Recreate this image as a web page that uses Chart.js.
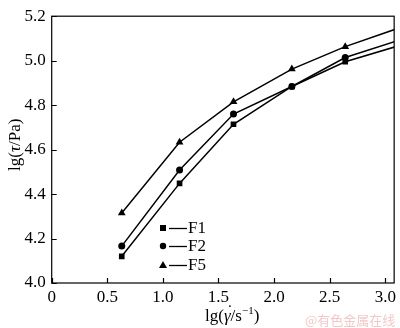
<!DOCTYPE html>
<html>
<head>
<meta charset="utf-8">
<script src="https://cdn.jsdelivr.net/npm/chart.js@4"></script>
<style>
  html, body { margin: 0; padding: 0; background: #fff; }
  #wrap { width: 400px; height: 328px; }
</style>
</head>
<body>
<div id="wrap"><canvas id="chart" width="400" height="328"></canvas></div>
<script>
// lg(shear rate), lg(shear stress)
const xF = [0.63, 1.15, 1.635, 2.16, 2.64, 3.14];
const f1 = [4.12, 4.448, 4.714, 4.884, 4.995, 5.07];
const f2 = [4.166, 4.508, 4.760, 4.884, 5.014, 5.095];
const f5 = [4.315, 4.633, 4.815, 4.962, 5.063, 5.15];
const seriesNames = ['F1', 'F2', 'F5'];
const markers = ['rect', 'circle', 'triangle'];
const xTicks = [0, 0.5, 1.0, 1.5, 2.0, 2.5, 3.0];
const yTicks = [4.0, 4.2, 4.4, 4.6, 4.8, 5.0, 5.2];

const SERIF = '"Liberation Serif", "Times New Roman", serif';

function pts(ys) { return ys.map((y, i) => ({ x: xF[i], y: y })); }

const ctx = document.getElementById('chart').getContext('2d');

// box, inward ticks, axis titles, legend, watermark
const decor = {
  id: 'decor',
  afterDraw(chart) {
    const c = chart.ctx, a = chart.chartArea;
    const xs = chart.scales.x, ys = chart.scales.y;
    c.save();
    c.strokeStyle = '#000';
    c.lineWidth = 1.2;
    c.strokeRect(a.left, a.top, a.right - a.left, a.bottom - a.top);
    c.beginPath();
    xTicks.forEach(v => {
      const px = Math.round(xs.getPixelForValue(v)) + 0.5;
      c.moveTo(px, a.bottom); c.lineTo(px, a.bottom - 5);
    });
    yTicks.forEach(v => {
      const py = Math.round(ys.getPixelForValue(v)) + 0.5;
      c.moveTo(a.left, py); c.lineTo(a.left + 5, py);
    });
    c.stroke();

    // legend
    const lx = 163, ly = [228, 246, 265];
    seriesNames.forEach((name, i) => {
      c.fillStyle = '#000';
      c.beginPath();
      if (markers[i] === 'rect') c.rect(lx - 3, ly[i] - 3, 6, 6);
      else if (markers[i] === 'circle') c.arc(lx, ly[i], 3.2, 0, Math.PI * 2);
      else { c.moveTo(lx, ly[i] - 4); c.lineTo(lx + 4, ly[i] + 3); c.lineTo(lx - 4, ly[i] + 3); c.closePath(); }
      c.fill();
      c.beginPath();
      c.lineWidth = 1.3;
      c.moveTo(169, ly[i] + 0.5); c.lineTo(187, ly[i] + 0.5);
      c.stroke();
      c.font = '17px ' + SERIF;
      c.textBaseline = 'middle';
      c.textAlign = 'left';
      c.fillText(name, 188, ly[i] + 1);
    });

    // x title: lg(γ̇/s^-1)
    c.textBaseline = 'alphabetic';
    let x = 205, y = 321;
    const put = (t, f, dy) => { c.font = f; c.fillText(t, x, y + (dy || 0)); x += c.measureText(t).width; };
    put('lg(', '17px ' + SERIF);
    const gx = x;
    put('γ', 'italic 17px ' + SERIF);
    c.fillText('˙', gx + 2, y - 5);
    put('/s', '17px ' + SERIF);
    put('−1', '11px ' + SERIF, -7);
    put(')', '17px ' + SERIF);

    // y title: lg(τ/Pa), rotated
    c.save();
    c.translate(20, 138);
    c.rotate(-Math.PI / 2);
    x = -33; y = 0;
    put('lg(', '17px ' + SERIF);
    put('τ', 'italic 17px ' + SERIF);
    put('/Pa)', '17px ' + SERIF);
    c.restore();

    // watermark
    c.fillStyle = '#f2c9c9';
    c.font = '13px "Noto Sans CJK SC", sans-serif';
    c.textAlign = 'left';
    c.fillText('@有色金属在线', 305, 325);
    c.restore();
  }
};

function ds(label, ys, style, r) {
  return {
    label: label,
    data: pts(ys),
    borderColor: '#000',
    backgroundColor: '#000',
    borderWidth: 1.5,
    pointStyle: style,
    pointRadius: r,
    pointHoverRadius: r,
    pointBorderWidth: 0,
    fill: false,
    tension: 0
  };
}

new Chart(ctx, {
  type: 'line',
  data: {
    datasets: [
      ds('F1', f1, 'rect', 4),
      ds('F2', f2, 'circle', 3.5),
      ds('F5', f5, 'triangle', 4.5)
    ]
  },
  options: {
    responsive: false,
    animation: false,
    events: [],
    layout: { padding: { top: 6, right: 3, left: 0, bottom: 0 } },
    plugins: { legend: { display: false }, tooltip: { enabled: false } },
    scales: {
      x: {
        type: 'linear',
        min: 0, max: 3.08,
        afterBuildTicks: s => { s.ticks = xTicks.map(v => ({ value: v })); },
        afterFit: s => { s.height = 45; },
        grid: { display: false, drawTicks: false },
        border: { display: false },
        ticks: {
          color: '#000',
          padding: 4,
          maxRotation: 0,
          font: { family: SERIF, size: 17 },
          callback: v => v === 0 ? '0' : v.toFixed(1)
        }
      },
      y: {
        min: 4.0, max: 5.2,
        afterBuildTicks: s => { s.ticks = yTicks.map(v => ({ value: v })); },
        afterFit: s => { s.width = 51.7; },
        grid: { display: false, drawTicks: false },
        border: { display: false },
        ticks: {
          color: '#000',
          padding: 6,
          font: { family: SERIF, size: 17 },
          callback: v => v.toFixed(1)
        }
      }
    }
  },
  plugins: [decor]
});
</script>
</body>
</html>
